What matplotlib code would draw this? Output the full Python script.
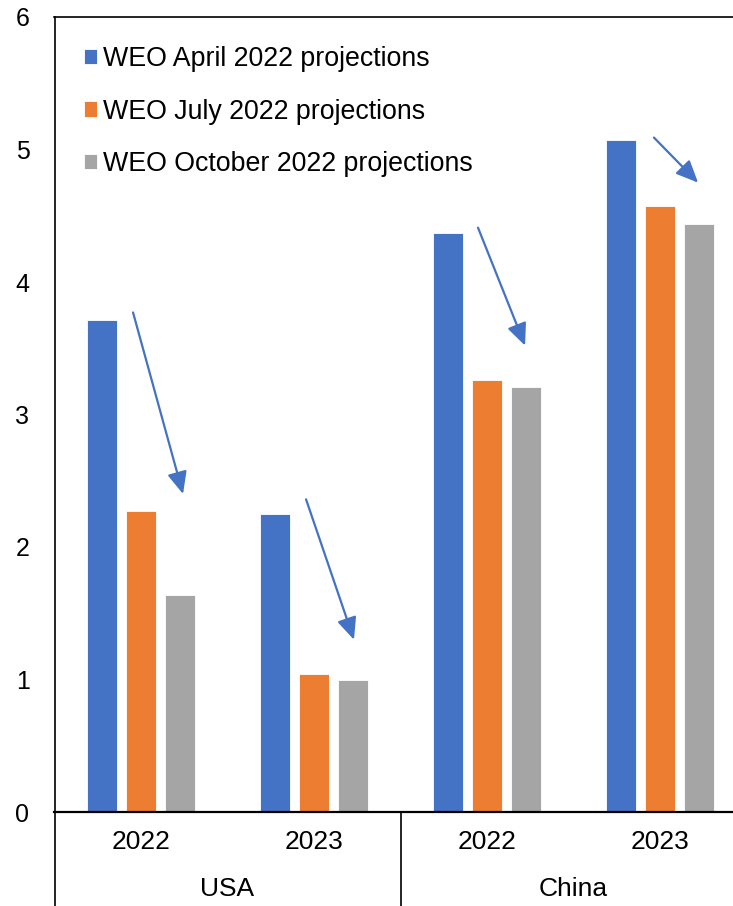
import matplotlib
matplotlib.use("Agg")
import matplotlib.pyplot as plt
from matplotlib.lines import Line2D
import numpy as np

plt.rcParams['font.family'] = ['Liberation Sans', 'DejaVu Sans']

countries = ["USA", "China"]
years = ["2022", "2023", "2022", "2023"]
series_names = ["WEO April 2022 projections", "WEO July 2022 projections",
                "WEO October 2022 projections"]
april = [3.71, 2.25, 4.37, 5.07]
july = [2.27, 1.04, 3.26, 4.57]
october = [1.64, 1.0, 3.21, 4.44]
colors = ["#4472C4", "#ED7D31", "#A5A5A5"]

# arrows: (x_start, y_start, x_end, y_end) in data units
arrows = [(-0.046, 3.77, 0.243, 2.40),
          (0.954, 2.36, 1.231, 1.30),
          (1.948, 4.41, 2.220, 3.52),
          (2.965, 5.09, 3.220, 4.75)]

W, H = 733, 906
fig = plt.figure(figsize=(W/100, H/100), dpi=100)
left_px, right_px, bottom_px, top_px = 54.5, 746.5, 812, 17
ax = fig.add_axes([left_px/W, (H-bottom_px)/H, (right_px-left_px)/W, (bottom_px-top_px)/H])

x = np.arange(len(years))
off = 0.223
bw = 0.173
for i, (vals, c, name) in enumerate(zip([april, july, october], colors, series_names)):
    ax.bar(x + (i-1)*off, vals, width=bw, color=c, label=name,
           edgecolor='white', linewidth=0.6)

for xs, ys, xe, ye in arrows:
    ax.annotate("", xy=(xe, ye), xytext=(xs, ys),
                arrowprops=dict(arrowstyle="-|>,head_length=1.35,head_width=0.6",
                                color="#4472C4", lw=1.6, shrinkA=0, shrinkB=0,
                                mutation_scale=10))

ax.set_xlim(-0.5, 3.5)
ax.set_ylim(0, 6)
ax.set_yticks(range(0, 7))
ax.tick_params(axis='y', length=0, pad=18, labelsize=18)
ax.set_xticks([])
for s in ['left', 'bottom', 'top', 'right']:
    ax.spines[s].set_color('black')
ax.spines['bottom'].set_linewidth(1.6)
ax.spines['left'].set_linewidth(1.2)
ax.spines['top'].set_linewidth(1.2)

# category labels
for xi, yr in zip(x, years):
    fig.text((left_px + (xi+0.5)*173)/W, 1 - 842/H, yr, ha='center', va='center', fontsize=19)
for j, ctry in enumerate(countries):
    fig.text((left_px + (j*2+1)*173)/W, 1 - 889/H, ctry, ha='center', va='center', fontsize=19)

fig.add_artist(Line2D([left_px/W, left_px/W], [0, 1-bottom_px/H], color='black', lw=1.2))
fig.add_artist(Line2D([(left_px+346)/W]*2, [0, 1-bottom_px/H], color='black', lw=1.2))

leg = ax.legend(loc='upper left', bbox_to_anchor=((84-left_px)/(right_px-left_px), 1 - 29/(bottom_px-top_px)),
                frameon=False, fontsize=19.3, handlelength=0.5, handleheight=0.5,
                handletextpad=0.2, labelspacing=0.99, borderaxespad=0, borderpad=0)

fig.savefig("out.png", dpi=100)
